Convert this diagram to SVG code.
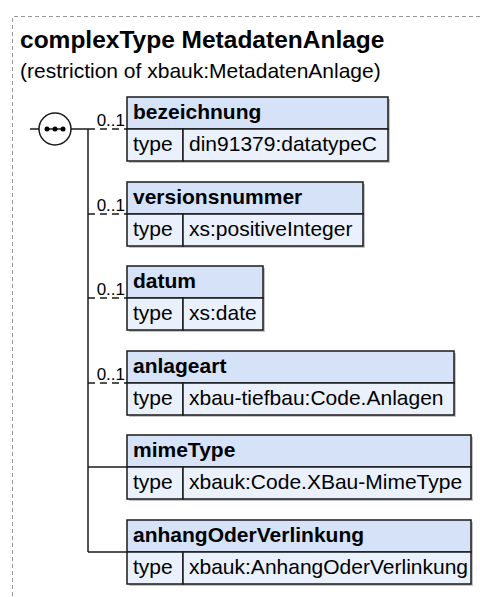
<svg xmlns="http://www.w3.org/2000/svg" width="480" height="597" viewBox="0 0 480 597">
<style>
text{font-family:"Liberation Sans",Arial,sans-serif;fill:#000}
.title{font-size:24.5px;font-weight:bold}
.sub{font-size:21px}
.name{font-size:21px;font-weight:bold}
.val{font-size:21px}
.occ{font-size:17px;text-anchor:end}
.hdr{fill:#d5e2f8;stroke:#1a1a1a;stroke-width:1.5}
.row{fill:#eaf1fd;stroke:#1a1a1a;stroke-width:1.5}
.shadow{fill:#c4c4c4}
.ln{stroke:#1a1a1a;stroke-width:1.5;fill:none}
.opt{stroke:#1a1a1a;stroke-width:1.5;fill:none;stroke-dasharray:7,5}
.border{stroke:#999;stroke-width:1;fill:none;stroke-dasharray:4,3}
</style>
<path class="border" d="M480,16.5 H12.5 V597"/>
<text class="title" x="20" y="48">complexType MetadatenAnlage</text>
<text class="sub" x="20" y="78">(restriction of xbauk:MetadatenAnlage)</text>
<g id="connectors">
<line class="ln" x1="30" y1="129" x2="39" y2="129"/>
<line class="ln" x1="71" y1="129" x2="88" y2="129"/>
<line class="ln" x1="88" y1="129" x2="88" y2="552"/>
<line class="opt" x1="88" y1="129" x2="127" y2="129"/>
<line class="opt" x1="88" y1="214" x2="127" y2="214"/>
<line class="opt" x1="88" y1="298" x2="127" y2="298"/>
<line class="opt" x1="88" y1="383" x2="127" y2="383"/>
<line class="ln" x1="88" y1="467" x2="127" y2="467"/>
<line class="ln" x1="88" y1="552" x2="127" y2="552"/>
<text class="occ" x="125" y="126">0..1</text>
<text class="occ" x="125" y="211">0..1</text>
<text class="occ" x="125" y="295">0..1</text>
<text class="occ" x="125" y="380">0..1</text>
</g>
<g id="sequence">
<circle cx="55" cy="129" r="16" fill="#fff" stroke="#1a1a1a" stroke-width="1.5"/>
<line class="ln" x1="45" y1="129" x2="65" y2="129"/>
<circle cx="47" cy="129" r="2.5" fill="#000"/>
<circle cx="55" cy="129" r="2.5" fill="#000"/>
<circle cx="63" cy="129" r="2.5" fill="#000"/>
</g>
<g id="bezeichnung">
<rect class="shadow" x="129" y="99" width="261" height="64"/>
<rect class="hdr" x="127" y="97" width="261" height="32"/>
<rect class="row" x="127" y="129" width="56" height="32"/>
<rect class="row" x="183" y="129" width="205" height="32"/>
<text class="name" x="133" y="119">bezeichnung</text>
<text class="val" x="133" y="151">type</text>
<text class="val" x="189" y="151">din91379:datatypeC</text>
</g>
<g id="versionsnummer">
<rect class="shadow" x="129" y="184" width="236" height="64"/>
<rect class="hdr" x="127" y="182" width="236" height="32"/>
<rect class="row" x="127" y="214" width="56" height="32"/>
<rect class="row" x="183" y="214" width="180" height="32"/>
<text class="name" x="133" y="204">versionsnummer</text>
<text class="val" x="133" y="236">type</text>
<text class="val" x="189" y="236">xs:positiveInteger</text>
</g>
<g id="datum">
<rect class="shadow" x="129" y="268" width="136" height="64"/>
<rect class="hdr" x="127" y="266" width="136" height="32"/>
<rect class="row" x="127" y="298" width="56" height="32"/>
<rect class="row" x="183" y="298" width="80" height="32"/>
<text class="name" x="133" y="288">datum</text>
<text class="val" x="133" y="320">type</text>
<text class="val" x="189" y="320">xs:date</text>
</g>
<g id="anlageart">
<rect class="shadow" x="129" y="353" width="327" height="64"/>
<rect class="hdr" x="127" y="351" width="327" height="32"/>
<rect class="row" x="127" y="383" width="56" height="32"/>
<rect class="row" x="183" y="383" width="271" height="32"/>
<text class="name" x="133" y="373">anlageart</text>
<text class="val" x="133" y="405">type</text>
<text class="val" x="189" y="405">xbau-tiefbau:Code.Anlagen</text>
</g>
<g id="mimeType">
<rect class="shadow" x="129" y="437" width="344" height="64"/>
<rect class="hdr" x="127" y="435" width="344" height="32"/>
<rect class="row" x="127" y="467" width="56" height="32"/>
<rect class="row" x="183" y="467" width="288" height="32"/>
<text class="name" x="133" y="457">mimeType</text>
<text class="val" x="133" y="489">type</text>
<text class="val" x="189" y="489">xbauk:Code.XBau-MimeType</text>
</g>
<g id="anhangOderVerlinkung">
<rect class="shadow" x="129" y="522" width="344" height="64"/>
<rect class="hdr" x="127" y="520" width="344" height="32"/>
<rect class="row" x="127" y="552" width="56" height="32"/>
<rect class="row" x="183" y="552" width="288" height="32"/>
<text class="name" x="133" y="542">anhangOderVerlinkung</text>
<text class="val" x="133" y="574">type</text>
<text class="val" x="189" y="574">xbauk:AnhangOderVerlinkung</text>
</g>
</svg>
